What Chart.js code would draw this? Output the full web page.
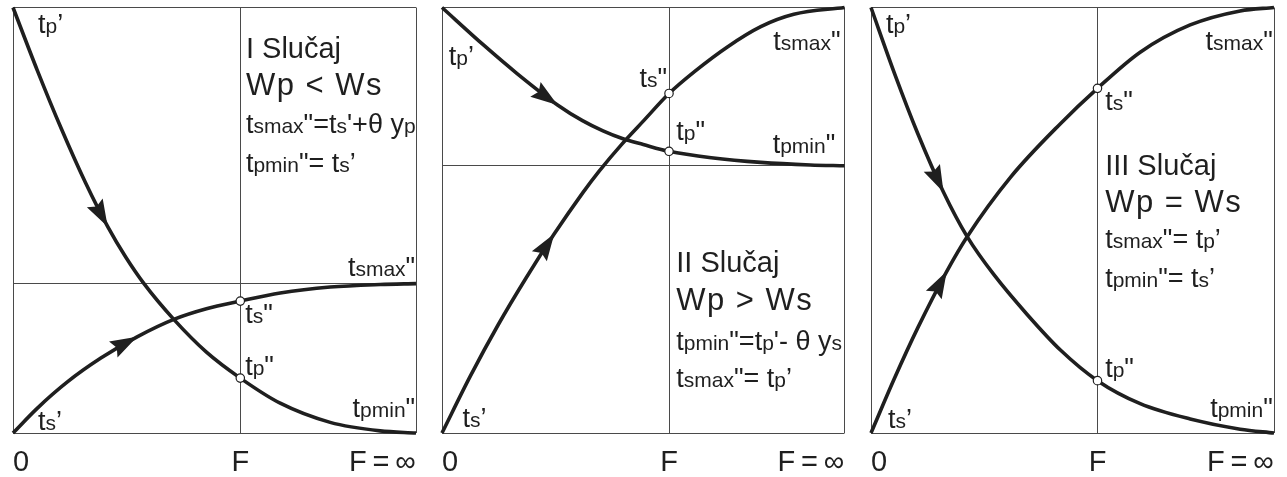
<!DOCTYPE html>
<html>
<head>
<meta charset="utf-8">
<script src="https://cdn.jsdelivr.net/npm/chart.js@4.4.1/dist/chart.umd.min.js"></script>
<style>
  html, body { margin: 0; padding: 0; background: #fff; }
  #wrap { position: relative; width: 1287px; height: 477px; overflow: hidden; }
  #wrap canvas { position: absolute; top: 0; }
</style>
</head>
<body>
<div id="wrap">
  <canvas id="case1" width="429" height="477" style="left:0"></canvas>
  <canvas id="case2" width="429" height="477" style="left:429px"></canvas>
  <canvas id="case3" width="429" height="477" style="left:858px"></canvas>
</div>
<script>
// x: 0 .. F=∞ as 0..1, y: temperature as share of the full span
const xTickLabels = ['0', 'F', 'F\u2009=\u2009\u221E'];
const fCase = [0.564, 0.564, 0.562];

// I slucaj: Wp < Ws
const case1TpX = [0, 0.06, 0.12, 0.18, 0.235, 0.28, 0.325, 0.399, 0.48, 0.564, 0.663, 0.787, 0.911, 1];
const case1TpY = [1, 0.853, 0.715, 0.588, 0.485, 0.413, 0.351, 0.267, 0.190, 0.129, 0.070, 0.025, 0.005, 0];
const case1TsX = [0, 0.06, 0.135, 0.218, 0.308, 0.399, 0.48, 0.564, 0.663, 0.787, 0.911, 1];
const case1TsY = [0, 0.058, 0.120, 0.176, 0.226, 0.267, 0.292, 0.310, 0.329, 0.343, 0.349, 0.351];
const case1Level = 0.351;
const case1Arrows = [0.235, 0.308];

// II slucaj: Wp > Ws
const case2TpX = [0, 0.103, 0.185, 0.287, 0.349, 0.40, 0.448, 0.50, 0.564, 0.669, 0.792, 0.915, 1];
const case2TpY = [1, 0.912, 0.846, 0.771, 0.734, 0.710, 0.692, 0.678, 0.662, 0.647, 0.636, 0.630, 0.628];
const case2TsX = [0, 0.07, 0.14, 0.21, 0.279, 0.35, 0.39, 0.447, 0.50, 0.564, 0.628, 0.71, 0.792, 0.874, 1];
const case2TsY = [0, 0.133, 0.255, 0.366, 0.468, 0.565, 0.615, 0.679, 0.733, 0.798, 0.850, 0.908, 0.955, 0.984, 1];
const case2Level = 0.628;
const case2Arrows = [0.287, 0.279];

// III slucaj: Wp = Ws
const case3TpX = [0, 0.058, 0.116, 0.180, 0.239, 0.305, 0.388, 0.470, 0.562, 0.668, 0.792, 0.916, 1];
const case3TpY = [1, 0.846, 0.704, 0.566, 0.461, 0.372, 0.278, 0.195, 0.123, 0.069, 0.033, 0.009, 0];
const case3TsX = [0, 0.058, 0.116, 0.188, 0.239, 0.347, 0.470, 0.562, 0.668, 0.792, 0.916, 1];
const case3TsY = [0, 0.128, 0.247, 0.380, 0.462, 0.602, 0.727, 0.810, 0.895, 0.959, 0.992, 1];
const case3Arrows = [0.180, 0.188];

const FONT = "'Liberation Sans', Arial, Helvetica, sans-serif";
const INK = '#1f1f1f';
const RULE = '#4a4a4a';
const LBL = [27, 21];
const TITLE = [29, 29];
const REL = [31, 31];

Chart.defaults.font.family = FONT;

// text with subscripts: "t|smax|x" -> odd parts are small
function drawRich(ctx, c, px, py) {
  const parts = c.text.split('|');
  const size = c.size || LBL;
  ctx.letterSpacing = c.spacing || '0px';
  const widths = parts.map((s, i) => {
    ctx.font = (i % 2 ? size[1] : size[0]) + 'px ' + FONT;
    return ctx.measureText(s).width;
  });
  const total = widths.reduce((a, b) => a + b, 0);
  let cx = c.align === 'right' ? px - total : px;
  ctx.textAlign = 'left';
  ctx.textBaseline = 'alphabetic';
  parts.forEach((s, i) => {
    ctx.font = (i % 2 ? size[1] : size[0]) + 'px ' + FONT;
    ctx.fillText(s, cx, py);
    cx += widths[i];
  });
  ctx.letterSpacing = '0px';
}

const sketch = {
  id: 'sketch',
  afterDatasetsDraw(chart, args, opts) {
    const {ctx, scales: {x, y}} = chart;
    ctx.save();
    ctx.fillStyle = INK;
    opts.arrows.forEach(a => {
      const pts = chart.getDatasetMeta(a.dataset).data;
      const pt = pts[a.index];
      let dx, dy;
      if (pt.cp2x !== undefined && pt.cp1x !== undefined) {
        dx = pt.cp2x - pt.cp1x; dy = pt.cp2y - pt.cp1y;
      } else {
        dx = pts[a.index + 1].x - pts[a.index - 1].x; dy = pts[a.index + 1].y - pts[a.index - 1].y;
      }
      const len = Math.hypot(dx, dy);
      dx /= len; dy /= len;
      const L = 27, W = 9, N = 4;
      const bx = pt.x - dx * L, by = pt.y - dy * L;
      ctx.beginPath();
      ctx.moveTo(pt.x, pt.y);
      ctx.lineTo(bx - dy * W, by + dx * W);
      ctx.lineTo(bx + dx * N, by + dy * N);
      ctx.lineTo(bx + dy * W, by - dx * W);
      ctx.closePath();
      ctx.fill();
    });
    opts.captions.forEach(c => drawRich(ctx, c, x.getPixelForValue(c.x), y.getPixelForValue(c.y)));
    ctx.restore();
  }
};

function makeCase(id, cfg) {
  const pairs = (xs, ys) => xs.map((v, i) => ({x: v, y: ys[i]}));
  const tp = pairs(cfg.tpX, cfg.tpY);
  const ts = pairs(cfg.tsX, cfg.tsY);
  const yTicks = cfg.level == null ? [0, 1] : [0, cfg.level, 1];
  const curve = {borderColor: INK, borderWidth: 3.6, pointRadius: 0, fill: false,
    cubicInterpolationMode: 'monotone', clip: false};
  return new Chart(document.getElementById(id), {
    type: 'line',
    data: {
      datasets: [
        {data: [ts[cfg.tsX.indexOf(cfg.f)], tp[cfg.tpX.indexOf(cfg.f)]], showLine: false,
          pointRadius: 4.2, pointBackgroundColor: '#fff', pointBorderColor: INK, pointBorderWidth: 1.2, clip: false},
        Object.assign({data: tp}, curve),
        Object.assign({data: ts}, curve)
      ]
    },
    options: {
      responsive: false,
      animation: false,
      events: [],
      layout: {padding: cfg.pad},
      plugins: {
        legend: {display: false},
        tooltip: {enabled: false},
        sketch: {
          arrows: [
            {dataset: 1, index: cfg.tpX.indexOf(cfg.arrows[0])},
            {dataset: 2, index: cfg.tsX.indexOf(cfg.arrows[1])}
          ],
          captions: cfg.captions
        }
      },
      scales: {
        x: {
          type: 'linear', min: 0, max: 1,
          afterBuildTicks: s => { s.ticks = [0, cfg.f, 1].map(v => ({value: v})); },
          afterFit: s => { s.height = 44; },
          grid: {color: RULE, lineWidth: 1, drawTicks: false},
          border: {display: false},
          ticks: {autoSkip: false, maxRotation: 0, align: 'inner', padding: 13, color: INK,
            font: {size: 29}, callback: (v, i) => xTickLabels[i]}
        },
        y: {
          type: 'linear', min: 0, max: 1,
          afterBuildTicks: s => { s.ticks = yTicks.map(v => ({value: v})); },
          afterFit: s => { s.width = 0; },
          grid: {color: RULE, lineWidth: 1, drawTicks: false},
          border: {display: false},
          ticks: {display: false}
        }
      }
    },
    plugins: [sketch]
  });
}

makeCase('case1', {
  tpX: case1TpX, tpY: case1TpY, tsX: case1TsX, tsY: case1TsY, f: fCase[0], level: case1Level,
  arrows: case1Arrows, pad: {left: 12, right: 12.5, top: 7.5, bottom: 0},
  captions: [
    {x: 0.062, y: 0.941, text: 't|p|\u2019'},
    {x: 0.062, y: 0.008, text: 't|s|\u2019'},
    {x: 0.998, y: 0.368, text: 't|smax|"', align: 'right'},
    {x: 0.576, y: 0.259, text: 't|s|"'},
    {x: 0.576, y: 0.137, text: 't|p|"'},
    {x: 0.998, y: 0.038, text: 't|pmin|"', align: 'right'},
    {x: 0.578, y: 0.882, text: 'I Slučaj', size: TITLE},
    {x: 0.578, y: 0.795, text: 'Wp < Ws', size: REL, spacing: '1.5px'},
    {x: 0.578, y: 0.706, text: 't|smax|"=t|s|\'+\u03B8 y|p|'},
    {x: 0.578, y: 0.614, text: 't|pmin|"= t|s|\u2019'}
  ]
});

makeCase('case2', {
  tpX: case2TpX, tpY: case2TpY, tsX: case2TsX, tsY: case2TsY, f: fCase[1], level: case2Level,
  arrows: case2Arrows, pad: {left: 9.5, right: 13.5, top: 7.5, bottom: 0},
  captions: [
    {x: 0.017, y: 0.865, text: 't|p|\u2019'},
    {x: 0.051, y: 0.015, text: 't|s|\u2019'},
    {x: 0.990, y: 0.900, text: 't|smax|"', align: 'right'},
    {x: 0.559, y: 0.813, text: 't|s|"', align: 'right'},
    {x: 0.582, y: 0.689, text: 't|p|"'},
    {x: 0.977, y: 0.658, text: 't|pmin|"', align: 'right'},
    {x: 0.582, y: 0.378, text: 'II Slučaj', size: TITLE},
    {x: 0.582, y: 0.289, text: 'Wp > Ws', size: REL, spacing: '1.5px'},
    {x: 0.582, y: 0.195, text: 't|pmin|"=t|p|\'- \u03B8 y|s|'},
    {x: 0.582, y: 0.108, text: 't|smax|"= t|p|\u2019'}
  ]
});

makeCase('case3', {
  tpX: case3TpX, tpY: case3TpY, tsX: case3TsX, tsY: case3TsY, f: fCase[2], level: null,
  arrows: case3Arrows, pad: {left: 12, right: 12.5, top: 7.5, bottom: 0},
  captions: [
    {x: 0.037, y: 0.940, text: 't|p|\u2019'},
    {x: 0.042, y: 0.012, text: 't|s|\u2019'},
    {x: 0.997, y: 0.900, text: 't|smax|"', align: 'right'},
    {x: 0.581, y: 0.759, text: 't|s|"'},
    {x: 0.581, y: 0.132, text: 't|p|"'},
    {x: 0.997, y: 0.038, text: 't|pmin|"', align: 'right'},
    {x: 0.581, y: 0.606, text: 'III Slučaj', size: TITLE},
    {x: 0.581, y: 0.519, text: 'Wp = Ws', size: REL, spacing: '1.5px'},
    {x: 0.581, y: 0.435, text: 't|smax|"= t|p|\u2019'},
    {x: 0.581, y: 0.344, text: 't|pmin|"= t|s|\u2019'}
  ]
});
</script>
</body>
</html>
